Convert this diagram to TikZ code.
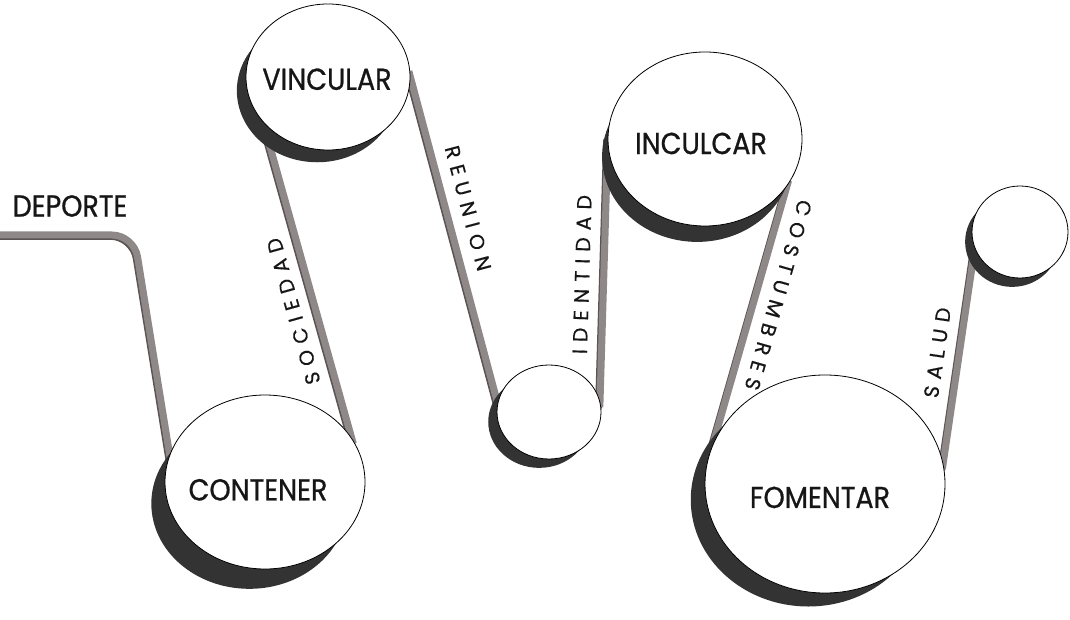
\documentclass[tikz,border=0pt]{standalone}
\usepackage{fontspec}
\setmainfont{Poppins}
\newfontfamily\discfont[FakeBold=0.8]{Poppins}
\newfontfamily\beltfont[LetterSpace=34,FakeBold=0.5]{Poppins}
\usetikzlibrary{shapes.geometric,shadows,backgrounds,calc}
\definecolor{beltgray}{HTML}{8F8889}
\definecolor{beltdark}{HTML}{5A5455}
\definecolor{shadowc}{HTML}{333333}
\definecolor{inkc}{HTML}{161616}
\begin{document}
\begin{tikzpicture}[x=1pt,y=-1pt,
  disc/.style={ellipse, draw=black, line width=0.8pt, fill=white, inner sep=0pt},
  disctext/.style={text=inkc, inner sep=0pt, yscale=1.12, font=\discfont\fontsize{27}{28}\selectfont},
  conn/.style={draw=beltgray, line width=7pt,
    preaction={draw=beltdark, line width=7pt, transform canvas={xshift=-1.3pt,yshift=-1.3pt}},
    shorten <=-6pt, shorten >=-6pt},
  beltlbl/.style={sloped, allow upside down, above=11pt, inner sep=0pt, text=inkc,
    font=\beltfont\fontsize{20.5}{21}\selectfont},
]
\useasboundingbox (0,0) rectangle (1070,620);

% circles
\node[disc, minimum width=164pt, minimum height=146pt,
  drop shadow={shadow xshift=-11pt, shadow yshift=-14pt, shadow scale=0.98, fill=shadowc, opacity=1},
  label={[disctext, name=vincT, xshift=-1pt, yshift=-2pt]center:VINCULAR}] (vinc) at (328,77) {};
\node[disc, minimum width=200pt, minimum height=174pt,
  drop shadow={shadow xshift=-16pt, shadow yshift=-22pt, shadow scale=0.98, fill=shadowc, opacity=1},
  label={[disctext, name=contT, xshift=-7pt, yshift=-7pt]center:CONTENER}] (cont) at (265,482) {};
\node[disc, minimum width=104pt, minimum height=94pt,
  drop shadow={shadow xshift=-10pt, shadow yshift=-10pt, shadow scale=0.98, fill=shadowc, opacity=1}] (hubA) at (549,412) {};
\node[disc, minimum width=194pt, minimum height=174pt,
  drop shadow={shadow xshift=-8pt, shadow yshift=-18pt, shadow scale=0.98, fill=shadowc, opacity=1},
  label={[disctext, name=inculT, xshift=-4pt, yshift=-4pt]center:INCULCAR}] (incul) at (705,139) {};
\node[disc, minimum width=240pt, minimum height=218pt,
  drop shadow={shadow xshift=-17pt, shadow yshift=-16pt, shadow scale=0.98, fill=shadowc, opacity=1},
  label={[disctext, name=fomT, xshift=-5pt, yshift=-12pt]center:FOMENTAR}] (foment) at (825,484) {};
\node[disc, minimum width=96pt, minimum height=92pt,
  drop shadow={shadow xshift=-8pt, shadow yshift=-10pt, shadow scale=0.98, fill=shadowc, opacity=1}] (hubB) at (1020,232) {};

% start label
\node[disctext] (dep) at (70,206) {DEPORTE};
\coordinate (depStart) at (0,235);

% belts
\begin{scope}[on background layer]
\draw[conn, rounded corners=22pt] (depStart) -- (134,235) -- (cont.164);
\draw[conn] (cont.27) -- node[beltlbl, pos=.42] (tSoc) {SOCIEDAD} (vinc.215);
\draw[conn] (vinc.0) -- node[beltlbl, pos=.42] (tReu) {REUNION} (hubA.170);
\draw[conn] (hubA.12) -- node[beltlbl, pos=.49] (tIde) {IDENTIDAD} (incul.183);
\draw[conn] (incul.-30) -- node[beltlbl, pos=.40] (tCos) {COSTUMBRES} (foment.160);
\draw[conn] (foment.10) -- node[beltlbl, pos=.5] (tSal) {SALUD} (hubB.200);
\end{scope}
\end{tikzpicture}
\end{document}
